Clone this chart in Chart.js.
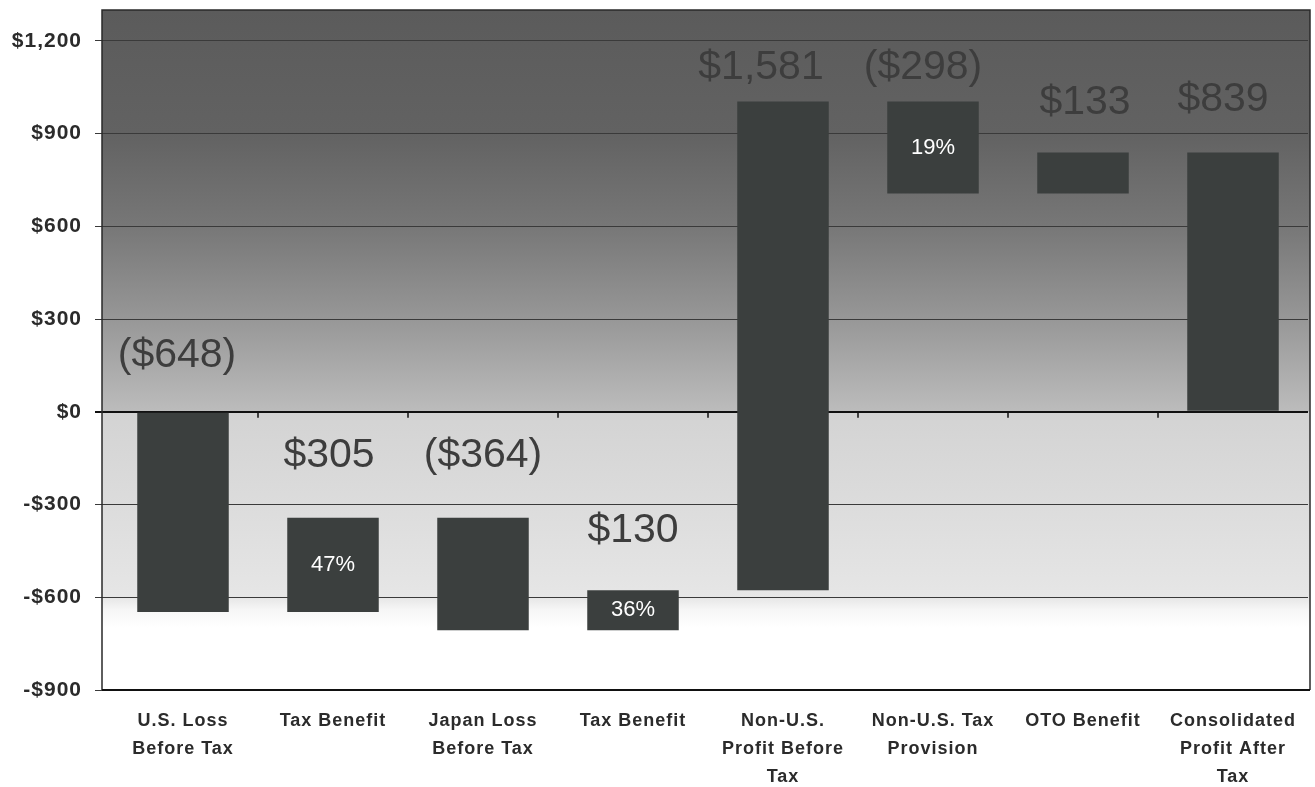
<!DOCTYPE html>
<html>
<head>
<meta charset="utf-8">
<title>Profit Walk</title>
<script src="https://cdn.jsdelivr.net/npm/chart.js@4.4.1/dist/chart.umd.min.js"></script>
<style>
    html, body { margin: 0; padding: 0; background: #fff; }
    #wrap { width: 1315px; height: 787px; }
</style>
</head>
<body>
<div id="wrap"><canvas id="walkChart"></canvas></div>
<script>
// Steps of the walk, left to right
const categories = [
    ['U.S. Loss', 'Before Tax'],
    ['Tax Benefit'],
    ['Japan Loss', 'Before Tax'],
    ['Tax Benefit'],
    ['Non-U.S.', 'Profit Before', 'Tax'],
    ['Non-U.S. Tax', 'Provision'],
    ['OTO Benefit'],
    ['Consolidated', 'Profit After', 'Tax']
];

// Amount of each step ($M); the last bar is the closing total
const amounts = [-648, 305, -364, 130, 1581, -298, 133, 839];
const isTotal = [false, false, false, false, false, false, false, true];

// Effective tax rates shown inside the tax bars
const taxRates = [null, 47, null, 36, null, 19, null, null];

// Value axis
const yTicks = [-900, -600, -300, 0, 300, 600, 900, 1200];
const yMin = -900;
const yMax = 1300;

// Build floating [start, end] pairs from the running total
const floating = [];
let running = 0;
amounts.forEach((amt, i) => {
    if (isTotal[i]) {
        floating.push([0, amt]);
        return;
    }
    floating.push([running, running + amt]);
    running += amt;
});

const money = v => v < 0
    ? '($' + Math.abs(v).toLocaleString('en-US') + ')'
    : '$' + v.toLocaleString('en-US');

const tickMoney = v => (v < 0 ? '-$' : '$') + Math.abs(v).toLocaleString('en-US');

const FONT = '"Liberation Sans", Arial, Helvetica, sans-serif';
Chart.defaults.font.family = FONT;

// Shaded plot background, dark at the top and fading out below zero
const plotBackdrop = {
    id: 'plotBackdrop',
    beforeDraw(chart) {
        const { ctx, chartArea: a } = chart;
        const y = chart.scales.y;
        const h = a.bottom - a.top;
        const f = v => Math.min(1, Math.max(0, (y.getPixelForValue(v) - a.top) / h));

        const g = ctx.createLinearGradient(0, a.top, 0, a.bottom);
        g.addColorStop(0, '#5b5b5b');
        g.addColorStop(f(900), '#626262');
        g.addColorStop(f(600), '#777777');
        g.addColorStop(f(300), '#979797');
        g.addColorStop(f(1), '#bcbcbc');
        g.addColorStop(f(-1), '#d3d3d3');
        g.addColorStop(f(-300), '#dcdcdc');
        g.addColorStop(f(-600), '#e6e6e6');
        g.addColorStop(f(-640), '#f6f6f6');
        g.addColorStop(f(-700), '#ffffff');
        g.addColorStop(1, '#ffffff');

        ctx.save();
        ctx.fillStyle = g;
        ctx.fillRect(a.left - 6, a.top, a.right - a.left + 8, h);
        ctx.restore();

        // axis labels are slightly tracked out
        ctx.letterSpacing = '1px';
    },
    beforeDatasetsDraw(chart) {
        const { ctx, chartArea: a } = chart;
        const y0 = chart.scales.y.getPixelForValue(0);
        const step = (a.right - a.left) / categories.length;

        ctx.save();
        // frame
        ctx.strokeStyle = '#2a2a2a';
        ctx.lineWidth = 1.5;
        ctx.beginPath();
        ctx.moveTo(a.left - 6, a.bottom);
        ctx.lineTo(a.left - 6, a.top);
        ctx.lineTo(a.right + 2, a.top);
        ctx.lineTo(a.right + 2, a.bottom);
        ctx.stroke();
        ctx.strokeStyle = '#111';
        ctx.lineWidth = 2;
        ctx.beginPath();
        ctx.moveTo(a.left - 6, a.bottom);
        ctx.lineTo(a.right + 2, a.bottom);
        ctx.stroke();

        // category ticks hanging off the zero line
        ctx.lineWidth = 1.5;
        ctx.beginPath();
        for (let i = 1; i < categories.length; i++) {
            const x = a.left + i * step;
            ctx.moveTo(x, y0);
            ctx.lineTo(x, y0 + 6);
        }
        ctx.stroke();
        ctx.restore();
    },
    afterDraw(chart) {
        chart.ctx.letterSpacing = '0px';
    }
};

// Amount above each bar, tax rate inside it
const barLabels = {
    id: 'barLabels',
    afterDatasetsDraw(chart) {
        const { ctx } = chart;
        const bars = chart.getDatasetMeta(0).data;
        const lift = [57, 62, 62, 59, 34, 34, 50, 53];
        const shift = [-6, -4, 0, 0, -22, -10, 2, -10];

        ctx.save();
        ctx.letterSpacing = '0px';
        ctx.textAlign = 'center';
        ctx.textBaseline = 'middle';
        bars.forEach((bar, i) => {
            const top = Math.min(bar.y, bar.base);
            ctx.fillStyle = '#3d3d3d';
            ctx.font = '41px ' + FONT;
            ctx.fillText(money(amounts[i]), bar.x + shift[i], top - lift[i]);

            if (taxRates[i] !== null) {
                ctx.fillStyle = '#ffffff';
                ctx.font = '22px ' + FONT;
                ctx.fillText(taxRates[i] + '%', bar.x, (bar.y + bar.base) / 2);
            }
        });
        ctx.restore();
    }
};

new Chart(document.getElementById('walkChart'), {
    type: 'bar',
    data: {
        labels: categories,
        datasets: [{
            data: floating,
            backgroundColor: '#3b3f3e',
            borderWidth: 0,
            borderSkipped: false,
            barPercentage: 0.61,
            categoryPercentage: 1
        }]
    },
    options: {
        responsive: true,
        maintainAspectRatio: false,
        animation: false,
        layout: { padding: { top: 10, right: 7, bottom: 0, left: 0 } },
        plugins: {
            legend: { display: false },
            tooltip: { enabled: false }
        },
        scales: {
            x: {
                grid: { display: false },
                border: { display: false },
                ticks: {
                    color: '#2b2b2b',
                    font: { size: 18, weight: 'bold', lineHeight: 1.55 },
                    padding: 9,
                    maxRotation: 0,
                    autoSkip: false
                },
                afterFit(scale) {
                    scale.height = 97;
                    scale.paddingLeft = 0;
                    scale.paddingRight = 0;
                }
            },
            y: {
                min: yMin,
                max: yMax,
                afterBuildTicks(scale) {
                    scale.ticks = yTicks.map(v => ({ value: v }));
                },
                grid: {
                    color: c => (c.tick && c.tick.value === 0) ? '#111111' : '#3a3a3a',
                    lineWidth: c => (c.tick && c.tick.value === 0) ? 2 : 1,
                    tickLength: 13
                },
                border: { display: false },
                ticks: {
                    color: '#2b2b2b',
                    font: { size: 21, weight: 'bold' },
                    padding: 13,
                    callback: v => tickMoney(v)
                },
                afterFit(scale) {
                    scale.width = 108;
                    scale.paddingTop = 0;
                    scale.paddingBottom = 0;
                }
            }
        }
    },
    plugins: [plotBackdrop, barLabels]
});
</script>
</body>
</html>
